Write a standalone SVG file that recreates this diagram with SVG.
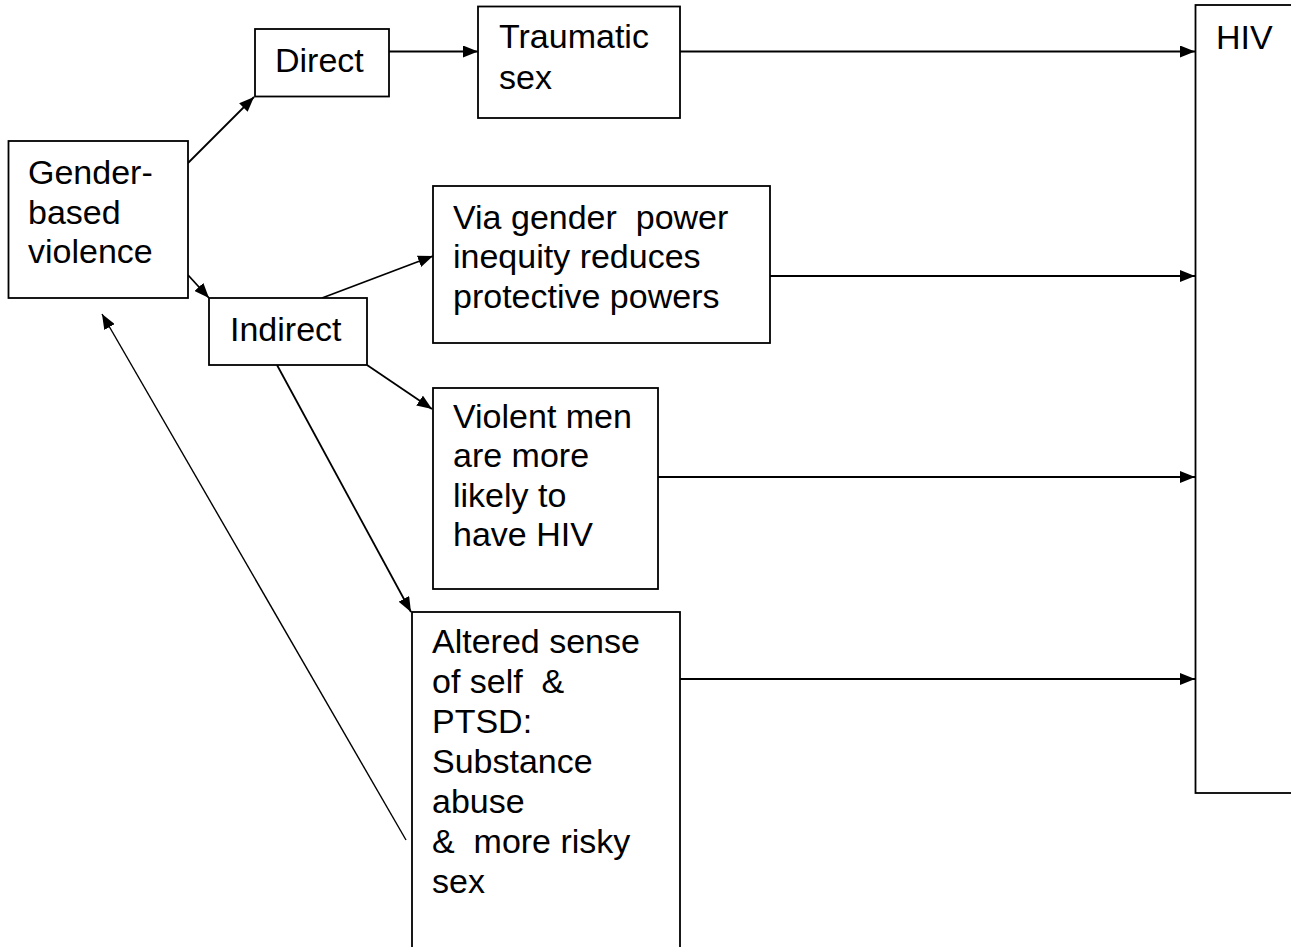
<svg xmlns="http://www.w3.org/2000/svg" width="1291" height="947" viewBox="0 0 1291 947">
<style>
.box{fill:#fff;stroke:#000;stroke-width:1.8}
.t{font-family:"Liberation Sans",Arial,sans-serif;font-size:34px;fill:#000;white-space:pre}
.c{stroke:#000;stroke-width:2;fill:none;marker-end:url(#ah)}
.d{stroke:#000;stroke-width:1.8;fill:none;marker-end:url(#ah)}
</style>
<defs>
<marker id="ah" markerUnits="userSpaceOnUse" markerWidth="15" markerHeight="12" refX="15" refY="6" orient="auto">
<path d="M0,0 L15,6 L0,12 z" fill="#000"/>
</marker>
</defs>
<rect width="1291" height="947" fill="#fff"/>
<g id="connectors">
<line class="d" x1="188" y1="163" x2="254" y2="97"/>
<line class="d" x1="188" y1="275" x2="209" y2="298"/>
<line class="c" x1="389" y1="51.5" x2="478" y2="51.5"/>
<line class="c" x1="680" y1="51.5" x2="1195" y2="51.5"/>
<line class="d" x1="322" y1="298" x2="433" y2="256"/>
<line class="d" x1="367" y1="365" x2="432" y2="409"/>
<line class="d" x1="277" y1="365" x2="411" y2="612"/>
<line class="d" style="stroke-width:1.4" x1="406" y1="840" x2="102" y2="314"/>
<line class="c" x1="770" y1="276" x2="1195" y2="276"/>
<line class="c" x1="658" y1="477" x2="1195" y2="477"/>
<line class="c" x1="680" y1="679" x2="1195" y2="679"/>
</g>
<g id="gbv">
<rect class="box" x="8.5" y="141" width="179.5" height="157"/>
<text class="t" x="28" y="184">Gender-</text>
<text class="t" x="28" y="224">based</text>
<text class="t" x="28" y="263">violence</text>
</g>
<g id="direct">
<rect class="box" x="255" y="29" width="134" height="67.5"/>
<text class="t" x="275" y="72">Direct</text>
</g>
<g id="traumatic">
<rect class="box" x="478" y="6.5" width="202" height="111.5"/>
<text class="t" x="499" y="48">Traumatic</text>
<text class="t" x="499" y="89">sex</text>
</g>
<g id="indirect">
<rect class="box" x="209" y="298" width="158" height="67"/>
<text class="t" x="230" y="341">Indirect</text>
</g>
<g id="via">
<rect class="box" x="433" y="186" width="337" height="157"/>
<text class="t" x="453" y="229" xml:space="preserve">Via gender  power</text>
<text class="t" x="453" y="268">inequity reduces</text>
<text class="t" x="453" y="308">protective powers</text>
</g>
<g id="violent">
<rect class="box" x="433" y="388" width="225" height="201"/>
<text class="t" x="453" y="428">Violent men</text>
<text class="t" x="453" y="467">are more</text>
<text class="t" x="453" y="507">likely to</text>
<text class="t" x="453" y="546">have HIV</text>
</g>
<g id="altered">
<rect class="box" x="412" y="612" width="268" height="345"/>
<text class="t" x="432" y="653">Altered sense</text>
<text class="t" x="432" y="693" xml:space="preserve">of self  &amp;</text>
<text class="t" x="432" y="733">PTSD:</text>
<text class="t" x="432" y="773">Substance</text>
<text class="t" x="432" y="813">abuse</text>
<text class="t" x="432" y="853" xml:space="preserve">&amp;  more risky</text>
<text class="t" x="432" y="893">sex</text>
</g>
<g id="hiv">
<rect class="box" x="1195.5" y="5" width="120" height="788"/>
<text class="t" x="1216" y="49">HIV</text>
</g>
</svg>
